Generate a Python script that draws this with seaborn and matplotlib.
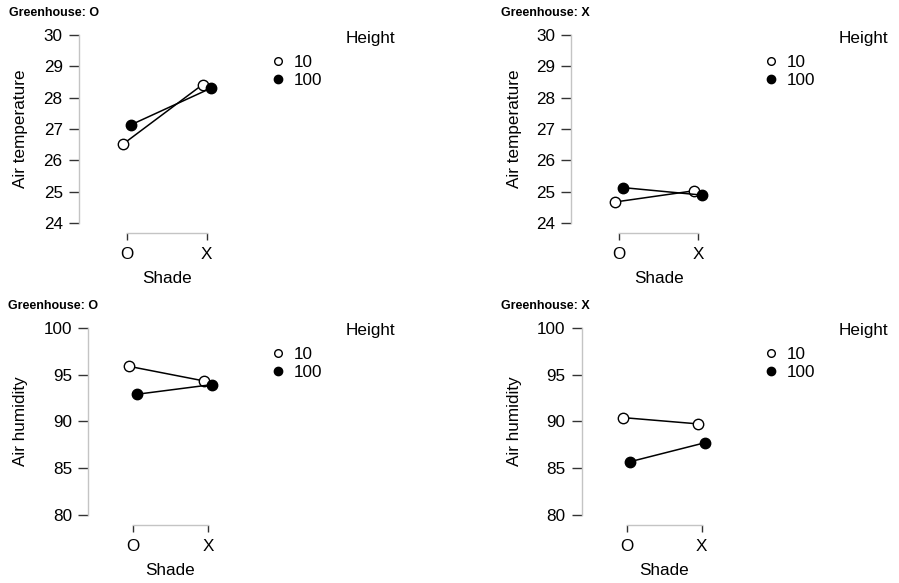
import matplotlib
matplotlib.use("Agg")
import matplotlib.pyplot as plt
from matplotlib.lines import Line2D
import numpy as np
import pandas as pd
import seaborn as sns

# values
shade = ["O", "X"]
heights = ["10", "100"]

temp_gh_o_10 = [26.51, 28.42]
temp_gh_o_100 = [27.13, 28.30]
temp_gh_x_10 = [24.67, 25.03]
temp_gh_x_100 = [25.13, 24.89]

hum_gh_o_10 = [95.87, 94.31]
hum_gh_o_100 = [92.89, 93.92]
hum_gh_x_10 = [90.40, 89.73]
hum_gh_x_100 = [85.70, 87.73]

temp_ticks = [24, 25, 26, 27, 28, 29, 30]
hum_ticks = [80, 85, 90, 95, 100]

sns.set_style("white")
plt.rcParams["font.family"] = ["Liberation Sans", "DejaVu Sans"]
plt.rcParams["text.color"] = "black"
plt.rcParams["axes.labelcolor"] = "black"
plt.rcParams["xtick.color"] = "black"
plt.rcParams["ytick.color"] = "black"

W, H = 899, 583
FS = 12.3
fig = plt.figure(figsize=(W / 100, H / 100), dpi=100)


def make_df(v10, v100):
    return pd.DataFrame({
        "Shade": shade * 2,
        "Height": [heights[0]] * 2 + [heights[1]] * 2,
        "value": list(v10) + list(v100),
    })


def panel(box, df, ticks, ylabel, title, title_x, title_y, ylab_x, legend_x, legend_y):
    left, top, width, bottom = box
    ax = fig.add_axes([left / W, 1 - bottom / H, width / W, (bottom - top) / H])
    sns.pointplot(data=df, x="Shade", y="value", hue="Height", order=shade,
                  hue_order=heights, palette=["black", "black"], markers="o",
                  linestyles="-", dodge=0.1, errorbar=None, legend=False, ax=ax,
                  markersize=7.5, linewidth=1.1)
    for ln, face in zip(ax.lines, ["white", "black"]):
        ln.set_markerfacecolor(face)
        ln.set_markeredgecolor("black")
        ln.set_markeredgewidth(1.0)
    ax.lines[1].set_zorder(3)

    ax.set_xlim(-0.6, 1.6)
    ax.set_ylim(ticks[0], ticks[-1])
    ax.set_yticks(ticks)
    ax.set_xticks([0, 1])
    ax.set_xticklabels(shade)

    for s in ["top", "right"]:
        ax.spines[s].set_visible(False)
    ax.spines["left"].set_bounds(ticks[0], ticks[-1])
    ax.spines["bottom"].set_bounds(0, 1)
    ax.spines["bottom"].set_position(("outward", 7.2))
    for s in ["left", "bottom"]:
        ax.spines[s].set_color("#c4c4c4")
        ax.spines[s].set_linewidth(1.0)
    ax.tick_params(axis="y", left=True, length=7, width=1, color="#333333",
                   labelcolor="black", pad=4.5, labelsize=FS)
    ax.tick_params(axis="x", bottom=True, length=5, width=1, color="#333333",
                   labelcolor="black", pad=5, labelsize=FS)

    ax.set_ylabel(ylabel, fontsize=FS)
    ax.set_xlabel("Shade", fontsize=FS)
    ax.yaxis.set_label_coords(ylab_x / W, 1 - (top + bottom) / 2 / H,
                              transform=fig.transFigure)
    ax.xaxis.set_label_coords((left + width / 2) / W, 1 - (bottom + 48) / H,
                              transform=fig.transFigure)

    fig.text(title_x / W, 1 - title_y / H, title, ha="left", va="center",
             fontsize=9, fontweight="bold")

    # legend
    fig.text((legend_x + 93) / W, 1 - (legend_y - 33) / H, "Height",
             ha="center", va="center", fontsize=FS)
    handles = [
        Line2D([], [], marker="o", ls="none", mfc="white", mec="black", mew=1, ms=5.5),
        Line2D([], [], marker="o", ls="none", mfc="black", mec="black", mew=1, ms=6),
    ]
    ax.legend(handles, heights, loc="center left",
              bbox_to_anchor=((legend_x - 6) / W, 1 - legend_y / H),
              bbox_transform=fig.transFigure, frameon=False, fontsize=FS,
              handlelength=0.8, handletextpad=0.55, labelspacing=0.15,
              borderpad=0, borderaxespad=0)
    return ax


panel((78.7, 35, 176, 223), make_df(temp_gh_o_10, temp_gh_o_100), temp_ticks,
      "Air temperature", "Greenhouse: O", 9, 13, 28, 277, 71.5)
panel((571.4, 35, 174.5, 223), make_df(temp_gh_x_10, temp_gh_x_100), temp_ticks,
      "Air temperature", "Greenhouse: X", 501, 13, 522, 770, 71.5)
panel((88, 327.7, 165, 515), make_df(hum_gh_o_10, hum_gh_o_100), hum_ticks,
      "Air humidity", "Greenhouse: O", 8, 306, 28, 277, 363.7)
panel((581.7, 327.7, 165, 515), make_df(hum_gh_x_10, hum_gh_x_100), hum_ticks,
      "Air humidity", "Greenhouse: X", 501, 306, 522, 770, 363.7)

fig.savefig("out.png", dpi=100)
